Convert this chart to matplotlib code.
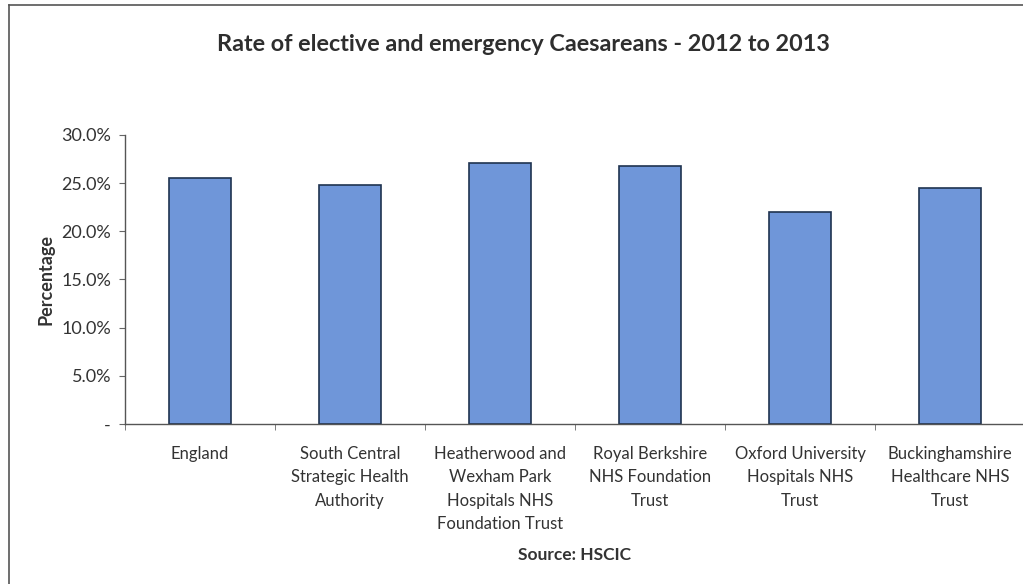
import numpy as np
import matplotlib.pyplot as plt
from matplotlib.ticker import FuncFormatter
from matplotlib.lines import Line2D

categories = ['England',
              'South Central\nStrategic Health\nAuthority',
              'Heatherwood and\nWexham Park\nHospitals NHS\nFoundation Trust',
              'Royal Berkshire\nNHS Foundation\nTrust',
              'Oxford University\nHospitals NHS\nTrust',
              'Buckinghamshire\nHealthcare NHS\nTrust']
rates = [25.5, 24.8, 27.1, 26.8, 22.0, 24.5]

plt.rcParams['font.family'] = ['Lato', 'DejaVu Sans']

fig = plt.figure(figsize=(10.23, 5.84), dpi=100)
ax = fig.add_axes([0.1222, 0.274, 0.88, 0.495])

x = np.arange(len(categories))
ax.bar(x, rates, width=0.41, color='#6f96d9', edgecolor='#1f3350', linewidth=1.2)

ax.set_xlim(-0.5, 5.5)
ax.set_ylim(0, 30)
ax.set_yticks(np.arange(0, 31, 5))
ax.yaxis.set_major_formatter(FuncFormatter(lambda v, p: '-' if v == 0 else f'{v:.1f}%'))
ax.set_xticks(x)
ax.set_xticklabels(categories, fontsize=12, color='#333333', linespacing=1.55)
ax.set_xticks(np.arange(-0.5, 5.6, 1), minor=True)
ax.tick_params(axis='x', which='major', length=0, pad=16)
ax.tick_params(axis='x', which='minor', length=4, color='#666666', direction='out')
ax.tick_params(axis='y', length=4, color='#666666', labelsize=13, labelcolor='#333333', pad=6)

for s in ['top', 'right']:
    ax.spines[s].set_visible(False)
for s in ['left', 'bottom']:
    ax.spines[s].set_color('#555555')
    ax.spines[s].set_linewidth(1.0)

ax.set_ylabel('Percentage', fontsize=13, fontweight='bold', color='#333333', labelpad=5)

fig.text(0.512, 0.923, 'Rate of elective and emergency Caesareans - 2012 to 2013',
         ha='center', va='center', fontsize=16.8, fontweight='bold', color='#2e2e2e')
fig.text(0.562, 0.05, 'Source: HSCIC', ha='center', va='center',
         fontsize=12.5, fontweight='bold', color='#333333')

# outer chart border (left and top edges visible)
fig.add_artist(Line2D([0.0085, 0.0085], [0.0, 0.992], transform=fig.transFigure,
                      color='#555555', linewidth=1.2))
fig.add_artist(Line2D([0.0085, 1.0], [0.992, 0.992], transform=fig.transFigure,
                      color='#555555', linewidth=1.2))

fig.savefig('out.png', dpi=100)
